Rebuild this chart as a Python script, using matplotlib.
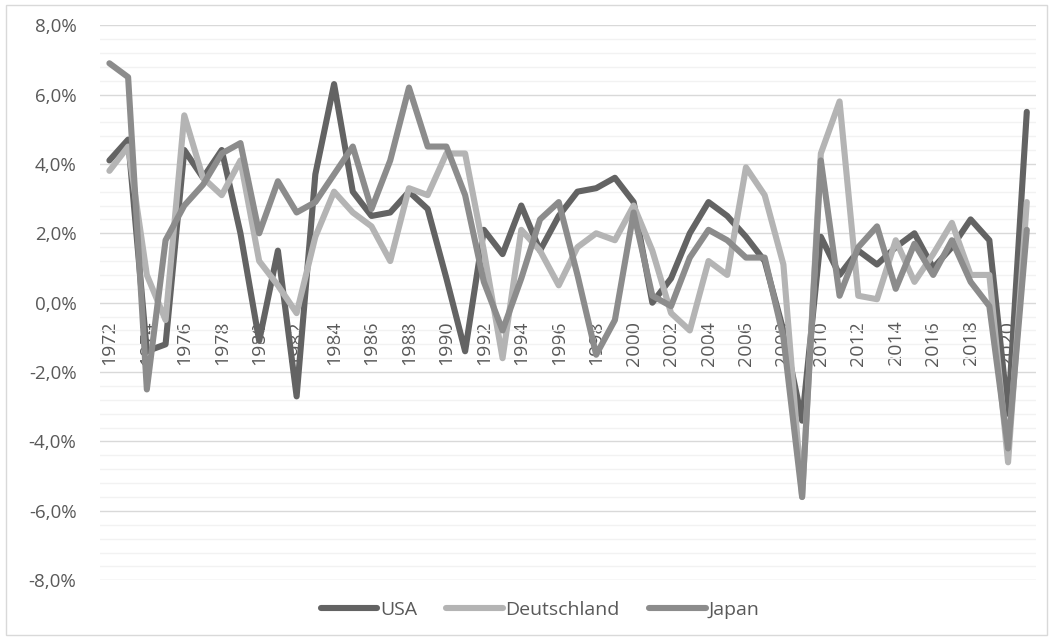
import numpy as np
import matplotlib
matplotlib.use('Agg')
from matplotlib import pyplot as plt
from matplotlib.ticker import MultipleLocator

# yearly growth in percent
years = list(range(1972, 2022))
usa = [4.1, 4.7, -1.4, -1.2, 4.4, 3.6, 4.4, 2.0, -1.1, 1.5,
       -2.7, 3.7, 6.3, 3.2, 2.5, 2.6, 3.2, 2.7, 0.7, -1.4,
       2.1, 1.4, 2.8, 1.5, 2.5, 3.2, 3.3, 3.6, 2.9, 0.0,
       0.7, 2.0, 2.9, 2.5, 1.9, 1.2, -0.8, -3.4, 1.9, 0.8,
       1.5, 1.1, 1.6, 2.0, 1.0, 1.6, 2.4, 1.8, -3.2, 5.5]
deutschland = [3.8, 4.5, 0.8, -0.5, 5.4, 3.6, 3.1, 4.1, 1.2, 0.5,
               -0.3, 1.9, 3.2, 2.6, 2.2, 1.2, 3.3, 3.1, 4.3, 4.3,
               1.5, -1.6, 2.1, 1.5, 0.5, 1.6, 2.0, 1.8, 2.8, 1.5,
               -0.3, -0.8, 1.2, 0.8, 3.9, 3.1, 1.1, -5.6, 4.3, 5.8,
               0.2, 0.1, 1.8, 0.6, 1.4, 2.3, 0.8, 0.8, -4.6, 2.9]
japan = [6.9, 6.5, -2.5, 1.8, 2.8, 3.4, 4.3, 4.6, 2.0, 3.5,
         2.6, 2.9, 3.7, 4.5, 2.7, 4.1, 6.2, 4.5, 4.5, 3.1,
         0.6, -0.8, 0.7, 2.4, 2.9, 0.8, -1.5, -0.5, 2.6, 0.2,
         -0.1, 1.3, 2.1, 1.8, 1.3, 1.3, -1.0, -5.6, 4.1, 0.2,
         1.6, 2.2, 0.4, 1.7, 0.8, 1.8, 0.6, -0.1, -4.2, 2.1]

series = [('USA', usa, '#636363'),
          ('Deutschland', deutschland, '#b4b4b4'),
          ('Japan', japan, '#8c8c8c')]

plt.rcParams['font.family'] = ['Open Sans', 'DejaVu Sans']

fig = plt.figure(figsize=(10.53, 6.39), dpi=100)
ax = fig.add_axes([0.095, 0.0919, 0.889, 0.8688])

x = np.arange(len(years))
for name, vals, col in series:
    ax.plot(x, vals, color=col, lw=4.4, label=name, solid_joinstyle='round',
            solid_capstyle='round', zorder=3)

ax.set_xlim(-0.5, len(years) - 0.5)
ax.set_ylim(-8, 8)

# gridlines
ax.yaxis.set_major_locator(MultipleLocator(2))
ax.yaxis.set_minor_locator(MultipleLocator(0.4))
ax.grid(axis='y', which='major', color='#d9d9d9', lw=1.0, zorder=1)
ax.grid(axis='y', which='minor', color='#f2f2f2', lw=1.0, zorder=0)
ax.grid(axis='x', visible=False)

yt = np.arange(-8, 9, 2)
ax.set_yticks(yt)
ax.set_yticklabels([('%.1f%%' % v).replace('.', ',') for v in yt],
                   fontsize=13.5, color='#595959')
ax.yaxis.set_tick_params(which='both', length=0, pad=17)

# category axis at 0
ax.spines['bottom'].set_position(('data', 0))
for s in ['top', 'right', 'left', 'bottom']:
    ax.spines[s].set_visible(False)
ax.set_xticks(x)
ax.set_xticklabels([str(y) if (y - 1972) % 2 == 0 else '' for y in years],
                   rotation=90, fontsize=14, color='#595959')
ax.xaxis.set_tick_params(length=0, pad=13)

leg = fig.legend(*ax.get_legend_handles_labels(), loc='center',
                 bbox_to_anchor=(540 / 1053, 1 - 610 / 639), ncol=3,
                 frameon=False, fontsize=14, handlelength=2.9, handletextpad=0.15,
                 columnspacing=1.5, labelcolor='#595959')

fig.patches.append(plt.Rectangle((0.006, 0.006), 0.988, 0.986, transform=fig.transFigure,
                                 fill=False, edgecolor='#d9d9d9', lw=1.0))

fig.savefig('out.png', dpi=100)
